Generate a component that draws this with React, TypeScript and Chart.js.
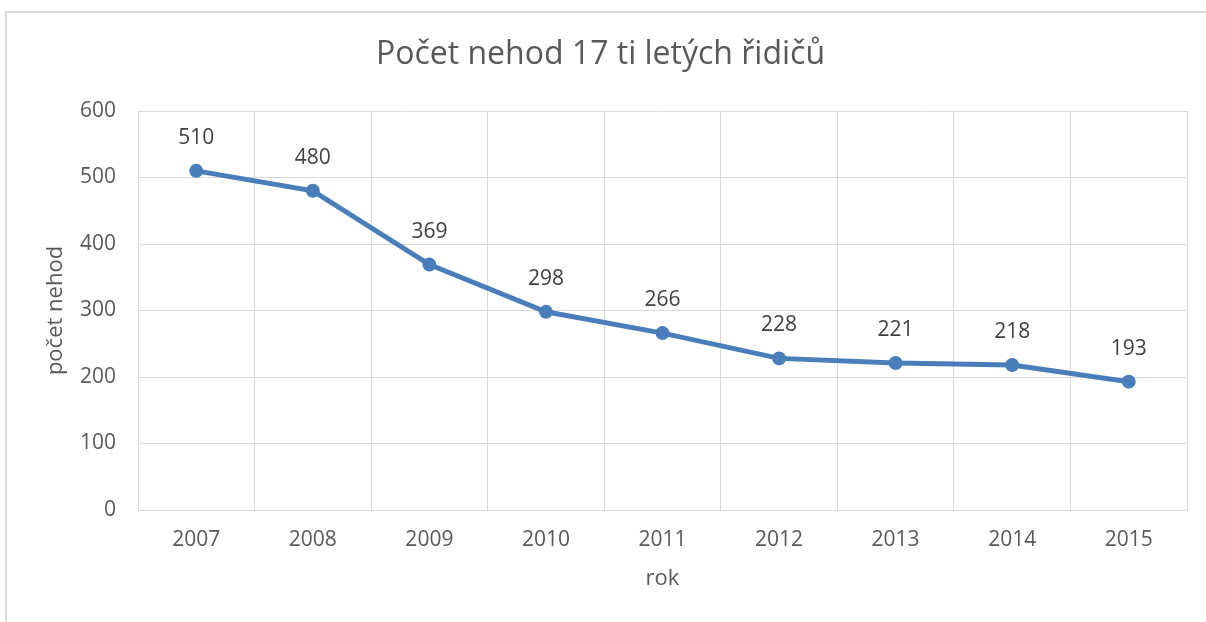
import React, { useEffect, useRef } from "react";
import { Chart, registerables } from "chart.js";

Chart.register(...registerables);

const categories = ["2007", "2008", "2009", "2010", "2011", "2012", "2013", "2014", "2015"];
const accidents = [510, 480, 369, 298, 266, 228, 221, 218, 193];
const chartTitle = "Počet nehod 17 ti letých řidičů";
const yTitle = "počet nehod";
const xTitle = "rok";

const FONT = "'Open Sans', 'Noto Sans', sans-serif";
const LINE_COLOR = "#4a7ebb";
const TEXT = "#595959";
const GRID = "#d9d9d9";

const dataLabels = {
  id: "dataLabels",
  afterDatasetsDraw(chart: any) {
    const ctx = chart.ctx;
    const meta = chart.getDatasetMeta(0);
    const data = chart.data.datasets[0].data as number[];
    ctx.save();
    ctx.font = `21px ${FONT}`;
    ctx.fillStyle = "#404040";
    ctx.textAlign = "center";
    ctx.textBaseline = "middle";
    meta.data.forEach((pt: any, i: number) => {
      ctx.fillText(String(data[i]), pt.x, pt.y - 33);
    });
    ctx.restore();
  },
};

export default function App() {
  const ref = useRef<HTMLCanvasElement | null>(null);
  useEffect(() => {
    if (!ref.current) return;
    const chart = new Chart(ref.current, {
      type: "line",
      data: {
        labels: categories,
        datasets: [
          {
            data: accidents,
            borderColor: LINE_COLOR,
            backgroundColor: LINE_COLOR,
            borderWidth: 5,
            pointRadius: 7,
            pointHoverRadius: 7,
            pointBackgroundColor: LINE_COLOR,
            pointBorderColor: LINE_COLOR,
            pointBorderWidth: 0,
            tension: 0,
          },
        ],
      },
      options: {
        responsive: false,
        animation: false,
        events: [],
        layout: { padding: { left: 14, right: 19, top: 0, bottom: 0 } },
        plugins: {
          legend: { display: false },
          tooltip: { enabled: false },
          title: {
            display: true,
            text: chartTitle,
            color: TEXT,
            font: { family: FONT, size: 32, weight: "normal" },
            padding: { top: 36, bottom: 36.6 },
          },
        },
        scales: {
          x: {
            type: "category",
            offset: true,
            grid: { offset: true, color: GRID, lineWidth: 1, drawTicks: false },
            border: { display: true, color: GRID, width: 1 },
            ticks: { color: TEXT, font: { family: FONT, size: 21 }, padding: 17 },
            title: {
              display: true,
              text: xTitle,
              color: TEXT,
              font: { family: FONT, size: 22 },
              padding: { top: 0, bottom: 30 },
            },
            afterFit(scale: any) {
              scale.height = 112;
            },
          },
          y: {
            min: 0,
            max: 600,
            ticks: { stepSize: 100, color: TEXT, font: { family: FONT, size: 21 }, padding: 22 },
            grid: { color: GRID, lineWidth: 1, drawTicks: false },
            border: { display: false },
            title: {
              display: true,
              text: yTitle,
              color: TEXT,
              font: { family: FONT, size: 22 },
              padding: { top: 29, bottom: 0 },
            },
            afterFit(scale: any) {
              scale.width = 124;
            },
          },
        },
      },
      plugins: [dataLabels],
    });
    return () => chart.destroy();
  }, []);

  return (
    <div style={{ position: "fixed", left: 0, top: 0, width: 1206, height: 622, overflow: "hidden", background: "#fff" }}>
      <div
        style={{
          position: "absolute",
          left: 5,
          top: 11,
          width: 1230,
          height: 700,
          border: "2px solid #d9d9d9",
          boxSizing: "border-box",
        }}
      />
      <canvas ref={ref} width={1206} height={622} style={{ position: "absolute", left: 0, top: 0, display: "block" }} />
    </div>
  );
}
